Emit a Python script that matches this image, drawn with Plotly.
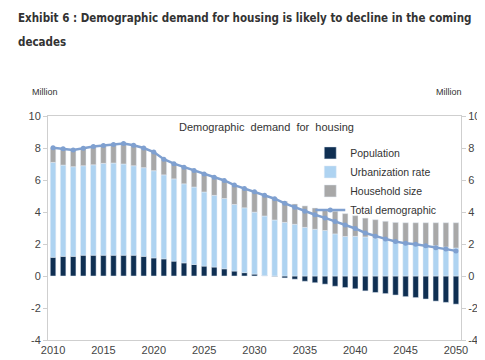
import plotly.graph_objects as go

years = list(range(2010, 2051))
population = [1.17, 1.23, 1.23, 1.30, 1.30, 1.30, 1.30, 1.30, 1.30, 1.23,
              1.13, 1.07, 0.93, 0.82, 0.72, 0.62, 0.56, 0.45, 0.31, 0.21,
              0.12, 0.02, -0.03, -0.12, -0.20, -0.33, -0.42, -0.51, -0.64, -0.72,
              -0.80, -0.93, -1.03, -1.10, -1.19, -1.29, -1.35, -1.44, -1.57, -1.65,
              -1.76]
urbanization = [5.93, 5.70, 5.60, 5.59, 5.65, 5.74, 5.76, 5.70, 5.59, 5.54,
                5.45, 5.25, 5.14, 4.94, 4.84, 4.63, 4.48, 4.39, 4.16, 4.05,
                3.87, 3.73, 3.50, 3.35, 3.23, 3.04, 2.92, 2.84, 2.63, 2.47,
                2.48, 2.44, 2.37, 2.27, 2.17, 2.10, 2.02, 1.95, 1.89, 1.81,
                1.75]
household = [0.92, 1.03, 1.05, 1.09, 1.15, 1.11, 1.16, 1.28, 1.28, 1.23,
             1.17, 0.98, 0.95, 1.04, 1.04, 1.13, 1.13, 1.13, 1.21, 1.21,
             1.28, 1.30, 1.36, 1.31, 1.27, 1.34, 1.33, 1.30, 1.42, 1.43,
             1.29, 1.18, 1.15, 1.15, 1.18, 1.23, 1.31, 1.38, 1.44, 1.52,
             1.58]
total = [8.02, 7.96, 7.88, 7.98, 8.10, 8.15, 8.22, 8.28, 8.17, 8.00,
         7.75, 7.30, 7.02, 6.80, 6.60, 6.38, 6.17, 5.97, 5.68, 5.47,
         5.27, 5.05, 4.83, 4.54, 4.30, 4.05, 3.83, 3.63, 3.41, 3.18,
         2.97, 2.69, 2.49, 2.32, 2.16, 2.04, 1.98, 1.89, 1.76, 1.68,
         1.57]
x_ticks = [2010, 2015, 2020, 2025, 2030, 2035, 2040, 2045, 2050]
y_ticks = [-4, -2, 0, 2, 4, 6, 8, 10]
y_tick_labels = ["-4", "-2", "0", "2", "4", "6", "8", "10"]

fig = go.Figure()
fig.add_trace(go.Bar(x=years, y=population, name="Population", marker_color="#0f2f52"))
fig.add_trace(go.Bar(x=years, y=urbanization, name="Urbanization rate", marker_color="#aed3f1"))
fig.add_trace(go.Bar(x=years, y=household, name="Household size", marker_color="#a8a8a8"))
fig.add_trace(go.Scatter(x=years, y=total, name="Total demographic", mode="lines+markers",
                         line=dict(color="#7fa0d0", width=2.5),
                         marker=dict(color="#7fa0d0", size=5), yaxis="y2"))

axis_font = dict(family="Liberation Sans, Arial", size=11, color="#444")
title_font = dict(family="DejaVu Sans Condensed, DejaVu Sans", size=11.5, color="#333")
fig.update_layout(
    width=485, height=360,
    margin=dict(l=40, r=32, t=108, b=25),
    paper_bgcolor="white", plot_bgcolor="white",
    barmode="relative", bargap=0.45,
    showlegend=True,
    legend=dict(x=0.635, y=0.90, xanchor="left", yanchor="top",
                font=dict(family="Liberation Sans, Arial", size=10.5, color="#333"),
                bgcolor="rgba(0,0,0,0)", tracegroupgap=0, itemwidth=30),
    xaxis=dict(range=[2009.5, 2050.5], tickvals=x_ticks, showgrid=False,
               showline=True, linecolor="#cfcfcf", linewidth=1, mirror=True,
               ticks="", tickfont=axis_font, zeroline=False),
    yaxis=dict(range=[-4, 10], tickvals=y_ticks, ticktext=y_tick_labels,
               showgrid=False, zeroline=False,
               showline=True, linecolor="#cfcfcf", linewidth=1,
               ticks="outside", ticklen=4, tickcolor="#cfcfcf", tickfont=axis_font),
    yaxis2=dict(range=[-4, 10], tickvals=y_ticks, ticktext=y_tick_labels,
                overlaying="y", side="right",
                showgrid=False, zeroline=False, showline=True, linecolor="#cfcfcf",
                ticks="outside", ticklen=4, tickcolor="#cfcfcf", tickfont=axis_font),
    annotations=[
        dict(text="<b>Exhibit 6 : Demographic demand for housing is likely to decline in the coming</b>",
             xref="paper", yref="paper", x=-0.078, y=1.0, xanchor="left", yanchor="middle",
             yshift=98, align="left", showarrow=False, font=title_font),
        dict(text="<b>decades</b>",
             xref="paper", yref="paper", x=-0.078, y=1.0, xanchor="left", yanchor="middle",
             yshift=74, align="left", showarrow=False, font=title_font),
        dict(text="Million", xref="paper", yref="paper", x=-0.008, y=1.0, yshift=17,
             xanchor="center", yanchor="bottom", showarrow=False,
             font=dict(family="Liberation Sans, Arial", size=9, color="#333")),
        dict(text="Million", xref="paper", yref="paper", x=0.97, y=1.0, yshift=17,
             xanchor="center", yanchor="bottom", showarrow=False,
             font=dict(family="Liberation Sans, Arial", size=9, color="#333")),
        dict(text="Demographic  demand  for  housing", xref="paper", yref="paper",
             x=0.53, y=0.985, xanchor="center", yanchor="top", showarrow=False,
             font=dict(family="Liberation Sans, Arial", size=11, color="#333")),
    ],
)
fig.write_html("out.html")
